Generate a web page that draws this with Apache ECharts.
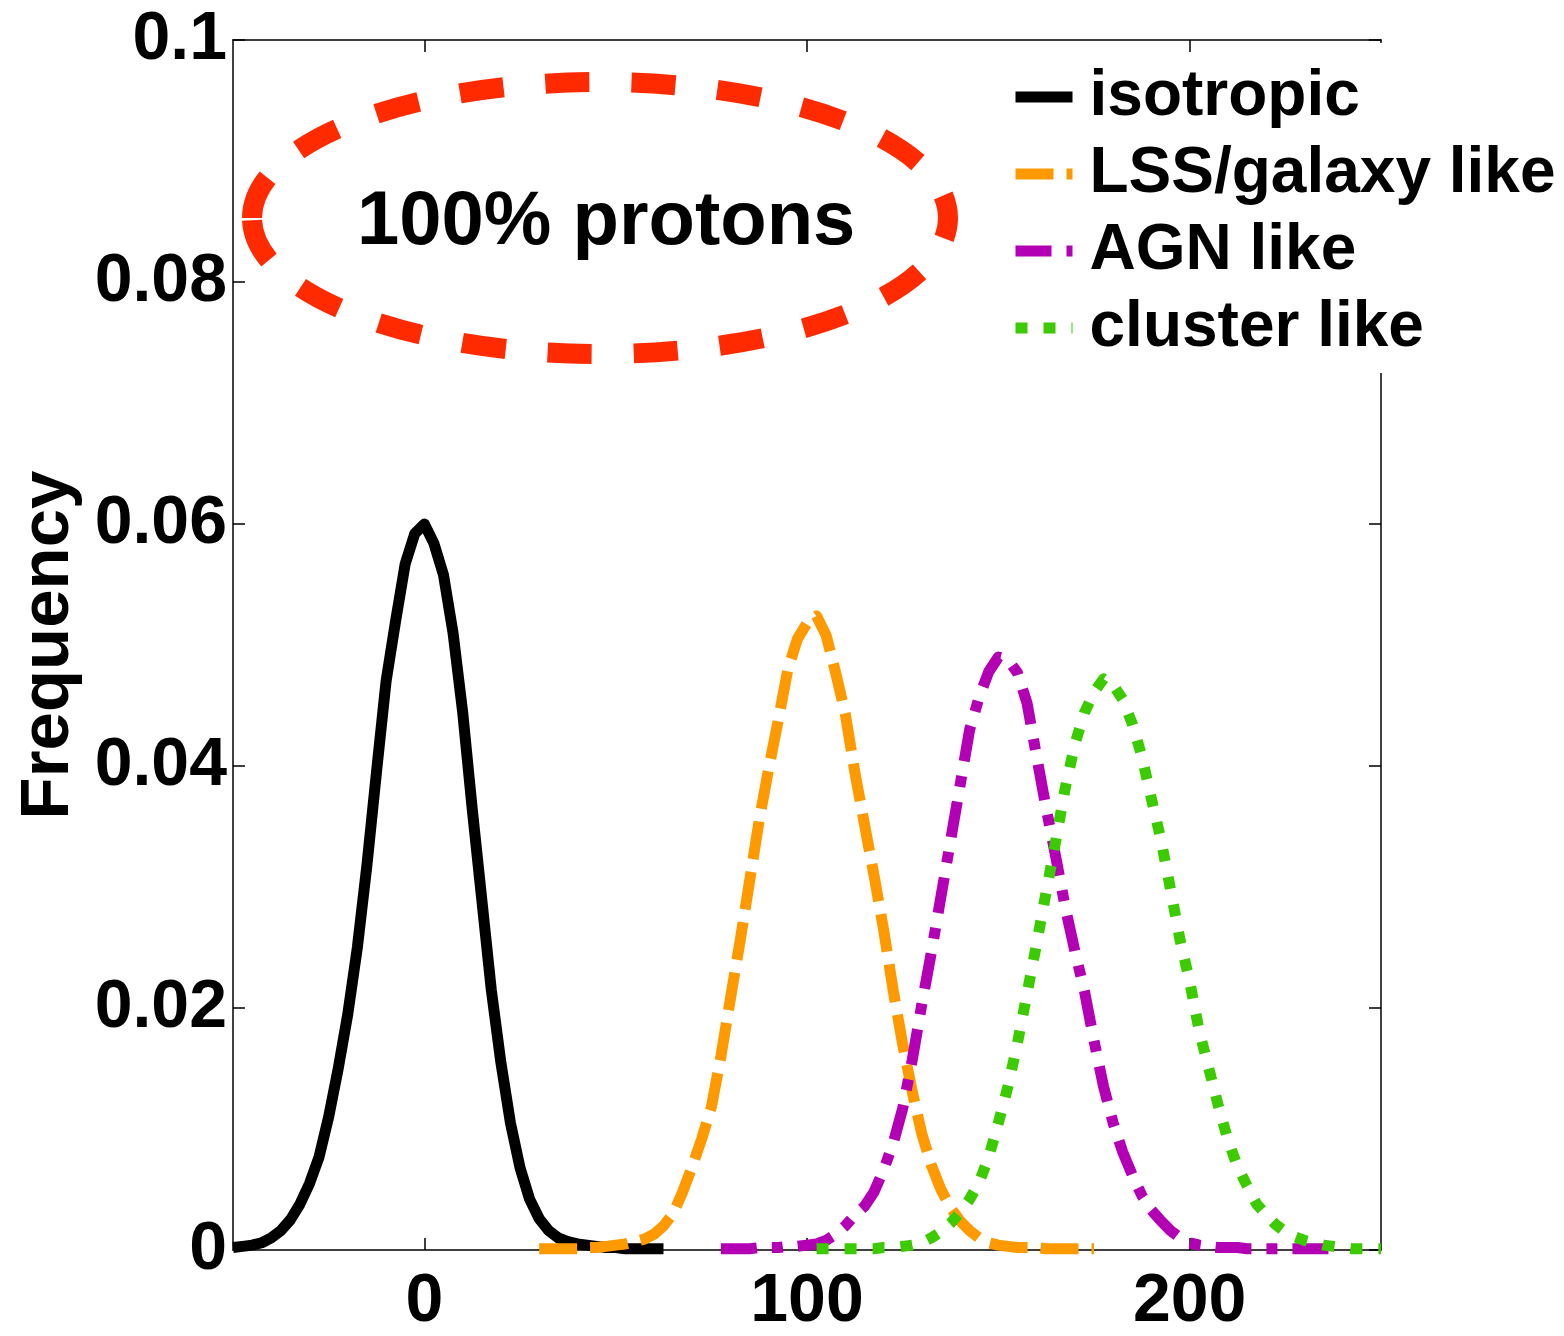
<!DOCTYPE html>
<html>
<head>
<meta charset="utf-8">
<script src="https://cdn.jsdelivr.net/npm/echarts@6/dist/echarts.min.js"></script>
<style>
html,body{margin:0;padding:0;background:#fff;overflow:hidden;}
#c{width:1564px;height:1336px;}
</style>
</head>
<body>
<div id="c"></div>
<script>
const seriesNames = ['isotropic', 'LSS/galaxy like', 'AGN like', 'cluster like'];
const xTickLabels = [0, 100, 200];

const isoX = [-50,-47.5,-45,-42.5,-40,-37.5,-35,-32.5,-30,-27.5,-25,-22.5,-20,-17.5,-15,-12.5,-10,-7.5,-5,-2.5,0,2.5,5,7.5,10,12.5,15,17.5,20,22.5,25,27.5,30,32.5,35,37.5,40,42.5,45,47.5,50,52.5,55,57.5,60,62.5];
const isoY = [0.0002,0.0003,0.0004,0.0006,0.0010,0.0016,0.0025,0.0038,0.0055,0.0077,0.0110,0.0150,0.0195,0.0250,0.0318,0.0395,0.0470,0.0520,0.0567,0.0592,0.0600,0.0584,0.0558,0.0510,0.0445,0.0365,0.0290,0.0215,0.0155,0.0105,0.0068,0.0042,0.0026,0.0016,0.0010,0.0007,0.0005,0.0004,0.0003,0.0002,0.0002,0.0001,0.0001,0.0001,0.0001,0.0001];

const lssX = [30,32.5,35,37.5,40,42.5,45,47.5,50,52.5,55,57.5,60,62.5,65,67.5,70,72.5,75,77.5,80,82.5,85,87.5,90,92.5,95,97.5,100,102.5,105,107.5,110,112.5,115,117.5,120,122.5,125,127.5,130,132.5,135,137.5,140,142.5,145,147.5,150,152.5,155,157.5,160,162.5,165,167.5,170,172.5,175];
const lssY = [0.0001,0.0001,0.0001,0.0001,0.0001,0.0002,0.0002,0.0003,0.0004,0.0005,0.0007,0.0009,0.0013,0.0020,0.0030,0.0048,0.0069,0.0092,0.0118,0.0160,0.0208,0.0255,0.0305,0.0355,0.0398,0.0438,0.0480,0.0505,0.0518,0.0524,0.0508,0.0477,0.0443,0.0395,0.0352,0.0310,0.0265,0.0215,0.0170,0.0131,0.0096,0.0070,0.0050,0.0035,0.0024,0.0016,0.0010,0.0006,0.0004,0.0003,0.0002,0.0002,0.0002,0.0001,0.0001,0.0001,0.0001,0.0001,0.0001];

const agnX = [77.5,80,82.5,85,87.5,90,92.5,95,97.5,100,102.5,105,107.5,110,112.5,115,117.5,120,122.5,125,127.5,130,132.5,135,137.5,140,142.5,145,147.5,150,152.5,155,157.5,160,162.5,165,167.5,170,172.5,175,177.5,180,182.5,185,187.5,190,192.5,195,197.5,200,202.5,205,207.5,210,212.5,215,217.5,220,222.5,225,227.5,230,232.5,235,237.5];
const agnY = [0.0001,0.0001,0.0001,0.0001,0.0002,0.0002,0.0002,0.0003,0.0003,0.0004,0.0005,0.0008,0.0013,0.0020,0.0029,0.0036,0.0048,0.0066,0.0088,0.0117,0.0157,0.0203,0.0246,0.0292,0.0338,0.0384,0.0430,0.0457,0.0478,0.0490,0.0488,0.0477,0.0452,0.0408,0.0365,0.0325,0.0283,0.0247,0.0214,0.0173,0.0135,0.0105,0.0081,0.0062,0.0045,0.0033,0.0024,0.0016,0.0010,0.0006,0.0004,0.0003,0.0002,0.0002,0.0002,0.0001,0.0001,0.0001,0.0001,0.0001,0.0001,0.0001,0.0001,0.0001,0.0001];

const cluX = [102.5,105,107.5,110,112.5,115,117.5,120,122.5,125,127.5,130,132.5,135,137.5,140,142.5,145,147.5,150,152.5,155,157.5,160,162.5,165,167.5,170,172.5,175,177.5,180,182.5,185,187.5,190,192.5,195,197.5,200,202.5,205,207.5,210,212.5,215,217.5,220,222.5,225,227.5,230,232.5,235,237.5,240,242.5,245,247.5,250];
const cluY = [0.0001,0.0001,0.0001,0.0001,0.0001,0.0001,0.0001,0.0002,0.0002,0.0003,0.0004,0.0006,0.0010,0.0015,0.0022,0.0031,0.0042,0.0056,0.0077,0.0105,0.0135,0.0171,0.0212,0.0253,0.0296,0.0338,0.0382,0.0418,0.0444,0.0461,0.0472,0.0467,0.0455,0.0435,0.0408,0.0373,0.0339,0.0298,0.0256,0.0222,0.0181,0.0150,0.0119,0.0091,0.0069,0.0053,0.0038,0.0029,0.0021,0.0015,0.0011,0.0008,0.0006,0.0004,0.0003,0.0002,0.0001,0.0001,0.0001,0.0001];

const zip = (xs, ys) => xs.map((x, i) => [x, ys[i]]);
const FONT = '"Liberation Sans", Arial, Helvetica, sans-serif';
const LW = 11;

const chart = echarts.init(document.getElementById('c'), null, {renderer: 'canvas', width: 1564, height: 1336});

const mkLine = (name, xs, ys, color, dash) => ({
  name, type: 'line', xAxisIndex: 0, yAxisIndex: 0,
  data: zip(xs, ys), symbol: 'none', showSymbol: false, smooth: false, animation: false,
  lineStyle: {color, width: LW, type: dash, cap: 'butt', join: 'round'},
  itemStyle: {color}
});

const xCommon = {
  type: 'value', min: -50, max: 250, interval: 50,
  splitLine: {show: false},
  axisLine: {show: true, onZero: false, lineStyle: {color: '#000', width: 1.5}},
  axisTick: {show: true, inside: true, length: 12, customValues: xTickLabels, lineStyle: {color: '#000', width: 1.5}}
};
const yCommon = {
  type: 'value', min: 0, max: 0.1, interval: 0.02,
  splitLine: {show: false},
  axisLine: {show: true, onZero: false, lineStyle: {color: '#000', width: 1.5}},
  axisTick: {show: true, inside: true, length: 12, lineStyle: {color: '#000', width: 1.5}}
};

chart.setOption({
  backgroundColor: '#fff',
  animation: false,
  grid: {left: 233, top: 40, right: 183, bottom: 75, containLabel: false},
  xAxis: [
    Object.assign({}, xCommon, {
      position: 'bottom',
      axisLabel: {show: true, customValues: xTickLabels, fontSize: 68, fontWeight: 'bold', fontFamily: FONT, color: '#000', margin: 18}
    }),
    Object.assign({}, xCommon, {position: 'top', axisLabel: {show: false}})
  ],
  yAxis: [
    Object.assign({}, yCommon, {
      position: 'left',
      name: 'Frequency', nameLocation: 'middle', nameGap: 146, nameRotate: 90,
      nameTextStyle: {fontSize: 69, fontWeight: 'bold', fontFamily: FONT, color: '#000'},
      axisLabel: {show: true, fontSize: 68, fontWeight: 'bold', fontFamily: FONT, color: '#000', margin: 6}
    }),
    Object.assign({}, yCommon, {position: 'right', axisLabel: {show: false}})
  ],
  legend: {
    orient: 'vertical', left: 1005, top: 60, itemWidth: 57, itemHeight: 24, itemGap: 13,
    data: seriesNames,
    itemStyle: {opacity: 0},
    lineStyle: {width: LW},
    textStyle: {fontSize: 64, fontWeight: 'bold', fontFamily: FONT, color: '#000', lineHeight: 64, padding: [0, 0, 0, 12]},
    backgroundColor: 'rgba(0,0,0,0)'
  },
  graphic: [
    {type: 'rect', z: 3, shape: {x: 1364, y: 43, width: 36, height: 330}, style: {fill: '#fff'}},
    {type: 'ellipse', z: 5, shape: {cx: 600, cy: 218, rx: 348, ry: 136},
     style: {fill: 'none', stroke: '#FF2A00', lineWidth: 20, lineDash: [44, 42], lineCap: 'butt'}},
    {type: 'text', z: 6, left: 357, top: 185,
     style: {text: '100% protons', font: 'bold 76px ' + FONT, fill: '#000'}}
  ],
  series: [
    mkLine(seriesNames[0], isoX, isoY, '#000000', 'solid'),
    mkLine(seriesNames[1], lssX, lssY, '#FF9900', [38, 13]),
    mkLine(seriesNames[2], agnX, agnY, '#B400B4', [36, 15, 11, 15]),
    mkLine(seriesNames[3], cluX, cluY, '#3CCB00', [12, 16])
  ]
});
</script>
</body>
</html>
